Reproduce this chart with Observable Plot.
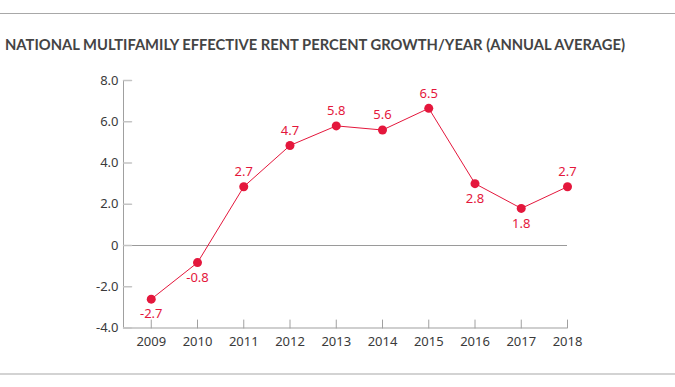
<!DOCTYPE html>
<html>
<head>
<meta charset="utf-8">
<script src="https://cdn.jsdelivr.net/npm/d3@7"></script>
<script src="https://cdn.jsdelivr.net/npm/@observablehq/plot@0.6"></script>
<style>
  html, body { margin: 0; padding: 0; background: #fff; }
  #wrap { width: 675px; height: 387px; position: relative; overflow: hidden; }
  #header { position: relative; height: 60px; }
  #topline { position: absolute; left: 0; top: 13px; width: 675px; height: 1px; background: #a8a8a8; }
  #title { position: absolute; left: 5px; top: 35px; font-family: Lato, "Open Sans", sans-serif; font-weight: bold; font-size: 15.5px; color: #444; white-space: nowrap; transform-origin: 0 0; }
  #bottomline { width: 675px; height: 2px; background: #d3d3d3; }
  #chart svg { display: block; }
</style>
</head>
<body>
<div id="wrap">
  <div id="header">
    <div id="topline"></div>
    <div id="title">NATIONAL MULTIFAMILY EFFECTIVE RENT PERCENT GROWTH/YEAR (ANNUAL AVERAGE)</div>
  </div>
  <div id="chart"></div>
  <div id="bottomline"></div>
</div>
<script>
const years = [2009, 2010, 2011, 2012, 2013, 2014, 2015, 2016, 2017, 2018];
const growth = [-2.6, -0.83, 2.85, 4.85, 5.8, 5.6, 6.65, 3.0, 1.8, 2.85];
const valueLabels = ["-2.7", "-0.8", "2.7", "4.7", "5.8", "5.6", "6.5", "2.8", "1.8", "2.7"];
const labelSide = ["below", "below", "above", "above", "above", "above", "above", "below", "below", "above"];
const yTicks = [-4, -2, 0, 2, 4, 6, 8];
const yTickLabels = ["-4.0", "-2.0", "0", "2.0", "4.0", "6.0", "8.0"];
const xStart = 2008.4;

const data = years.map((y, i) => ({year: y, value: growth[i], label: valueLabels[i], side: labelSide[i]}));
const red = "#e4173c";
const font = "'Noto Sans', 'Open Sans', sans-serif";
const tickShape = {draw(context, l) { context.moveTo(0, 0); context.lineTo(0, -l); }};

const chart = Plot.plot({
  width: 675,
  height: 313,
  marginLeft: 123,
  marginRight: 108,
  marginTop: 20,
  marginBottom: 45.5,
  style: {fontFamily: font, fontSize: "13px", color: "#3a3a3a", background: "#fff"},
  x: {type: "linear", domain: [xStart, 2018], axis: null, label: null},
  y: {domain: [-4, 8], axis: null, label: null},
  marks: [
    Plot.ruleY([-4], {stroke: "#cfcfcf", strokeWidth: 2}),
    Plot.ruleY([0], {stroke: "#9a9a9a", strokeWidth: 1}),
    Plot.ruleX([xStart], {stroke: "#a0a0a0", strokeWidth: 1}),
    Plot.vector(yTicks, {y: d => d, frameAnchor: "left", length: 8, rotate: 90, anchor: "start", shape: tickShape, stroke: "#c4c4c4", strokeWidth: 1.5}),
    Plot.vector(years, {x: d => d, frameAnchor: "bottom", length: 8, rotate: 0, anchor: "start", shape: tickShape, stroke: "#a0a0a0", strokeWidth: 1}),
    Plot.axisY(yTicks, {label: null, tickSize: 0, tickPadding: 5, tickFormat: d => yTickLabels[yTicks.indexOf(d)], fill: "#3a3a3a", fontSize: 13}),
    Plot.axisX(years, {label: null, tickSize: 0, tickPadding: 9, tickFormat: d => String(d), fill: "#3a3a3a", fontSize: 13}),
    Plot.line(data, {x: "year", y: "value", stroke: red, strokeWidth: 1}),
    Plot.dot(data, {x: "year", y: "value", r: 4.5, fill: red, stroke: "none"}),
    Plot.text(data.filter(d => d.side === "above"), {x: "year", y: "value", text: "label", dy: -15, fill: red, fontSize: 13}),
    Plot.text(data.filter(d => d.side === "below"), {x: "year", y: "value", text: "label", dy: 15, fill: red, fontSize: 13})
  ]
});
document.getElementById("chart").appendChild(chart);

// fit the title to the reference width
const title = document.getElementById("title");
const w = title.getBoundingClientRect().width;
if (w > 0) title.style.transform = `scaleX(${620 / w})`;
</script>
</body>
</html>
